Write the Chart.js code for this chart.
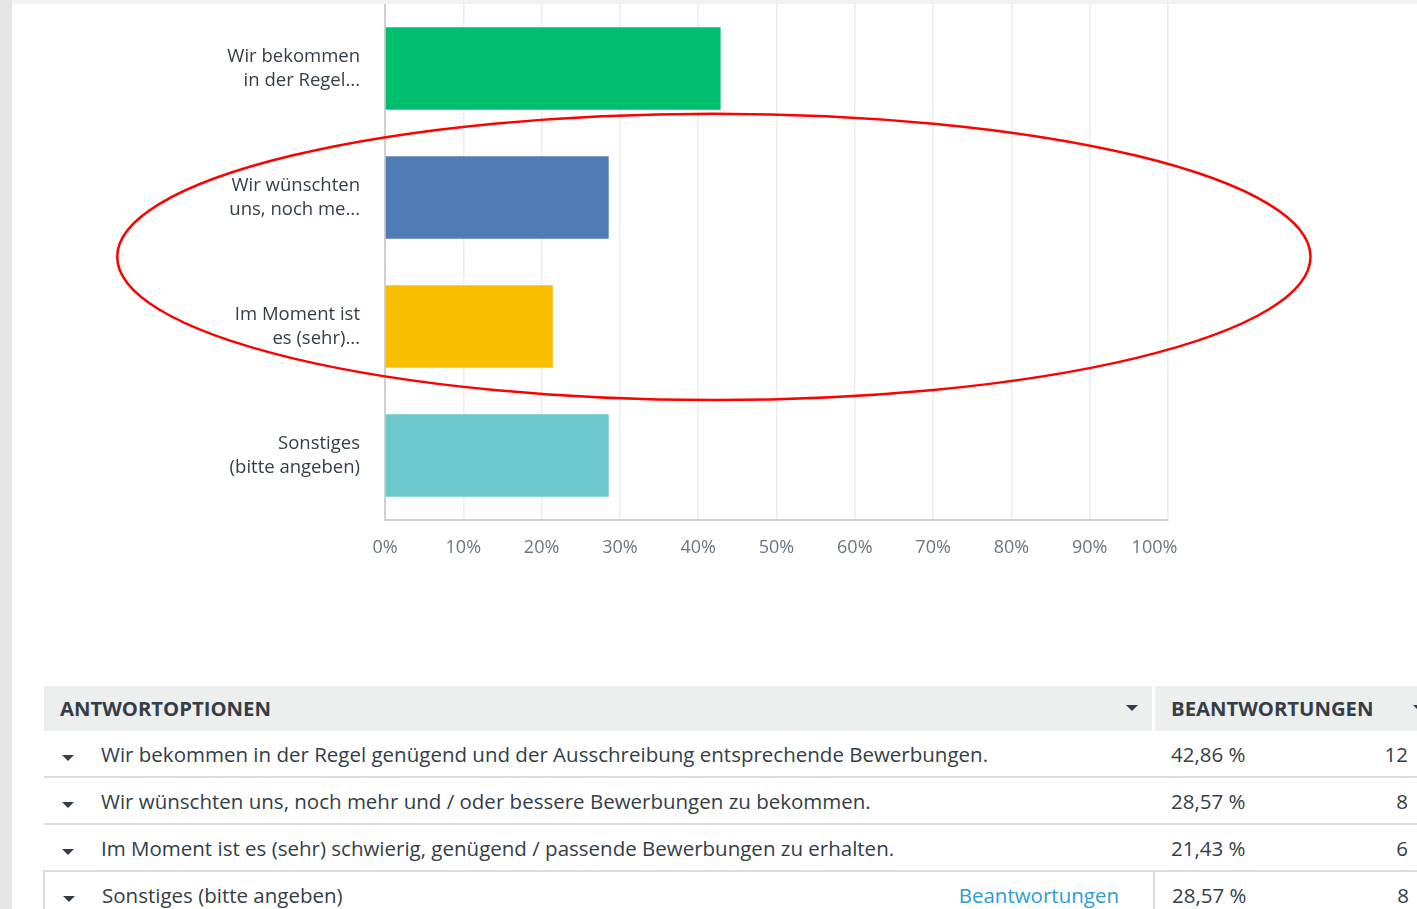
<!DOCTYPE html>
<html>
<head>
<meta charset="utf-8">
<script src="https://cdn.jsdelivr.net/npm/chart.js@4/dist/chart.umd.min.js"></script>
<style>
  html, body { margin: 0; padding: 0; }
  body { width: 1417px; height: 909px; background: #f2f2f2; position: relative; overflow: hidden;
         font-family: "Open Sans", sans-serif; color: #333e48; }
  #strip { position: absolute; left: 0; top: 0; width: 12px; height: 909px; background: #e6e6e6; }
  #panel { position: absolute; left: 12px; top: 4px; width: 1405px; height: 905px; background: #fff; }
  #chartBox { position: absolute; left: 12px; top: 4px; width: 1405px; height: 600px; }
  #tbl { position: absolute; left: 44px; top: 686px; width: 1373px; font-size: 20.5px; }
  .hdr { position: absolute; top: 0; height: 45px; background: #edeeee; font-weight: 700; line-height: 45px; font-size: 20.3px; }
  .tri { position: absolute; width: 0; height: 0; border-left: 6px solid transparent;
         border-right: 6px solid transparent; border-top: 6px solid #333e48; }
  .row { position: absolute; left: 0; width: 1373px; height: 45px; border-bottom: 2px solid #dcdcdc; line-height: 47px; }
  .cell { position: absolute; top: 0; white-space: nowrap; }
</style>
</head>
<body>
<div id="strip"></div>
<div id="panel"></div>
<div id="chartBox"><canvas id="myChart"></canvas></div>
<div id="tbl"></div>
<script>
// data
var shortLabels = [
    ["Wir bekommen", "in der Regel..."],
    ["Wir wünschten", "uns, noch me..."],
    ["Im Moment ist", "es (sehr)..."],
    ["Sonstiges", "(bitte angeben)"]
];
var fullLabels = [
    "Wir bekommen in der Regel genügend und der Ausschreibung entsprechende Bewerbungen.",
    "Wir wünschten uns, noch mehr und / oder bessere Bewerbungen zu bekommen.",
    "Im Moment ist es (sehr) schwierig, genügend / passende Bewerbungen zu erhalten.",
    "Sonstiges (bitte angeben)"
];
var percentValues = [42.86, 28.57, 21.43, 28.57];
var answerCounts = [12, 8, 6, 8];
var barColors = ["#00bf6f", "#507cb6", "#f9be00", "#6bc8cd"];
var xTicks = [0, 10, 20, 30, 40, 50, 60, 70, 80, 90, 100];

// red ellipse drawn on top, placed with the scales
var ellipsePlugin = {
    id: "ellipse",
    afterDraw: function (chart) {
        var x = chart.scales.x, y = chart.scales.y;
        var ctx = chart.ctx;
        var cx = x.getPixelForValue(42);
        var rx = x.getPixelForValue(118.2) - cx;
        var cy = y.getPixelForValue(1.46);
        var ry = cy - y.getPixelForValue(0.35);
        ctx.save();
        ctx.strokeStyle = "#ff0000";
        ctx.lineWidth = 2.5;
        ctx.beginPath();
        ctx.ellipse(cx, cy, rx, Math.abs(ry), 0, 0, Math.PI * 2);
        ctx.stroke();
        ctx.restore();
    }
};

new Chart("myChart", {
    type: "bar",
    data: {
        labels: shortLabels,
        datasets: [{
            data: percentValues,
            backgroundColor: barColors,
            barPercentage: 0.64,
            categoryPercentage: 1
        }]
    },
    options: {
        indexAxis: "y",
        responsive: true,
        maintainAspectRatio: false,
        animation: false,
        layout: { padding: { top: 0, right: 249, left: 0, bottom: 0 } },
        plugins: { legend: { display: false }, tooltip: { enabled: false } },
        scales: {
            x: {
                min: 0,
                max: 100,
                afterBuildTicks: function (s) { s.ticks = xTicks.map(function (v) { return { value: v }; }); },
                afterFit: function (s) { s.height = 84; s.paddingLeft = 0; s.paddingRight = 0; },
                ticks: {
                    padding: 17,
                    minRotation: 0,
                    maxRotation: 0,
                    autoSkip: false,
                    color: "#6b7680",
                    font: { family: "Open Sans", size: 18 },
                    // last label sits a bit left of its gridline in the original
                    callback: function (v) { return v === 100 ? v + "%\u2003\u2002" : v + "%"; }
                },
                grid: { color: "#ececec", lineWidth: 1.5, drawTicks: false },
                border: { color: "#d0d0d0", width: 2 }
            },
            y: {
                afterFit: function (s) { s.width = 373; s.paddingTop = 0; s.paddingBottom = 0; },
                ticks: {
                    padding: 25,
                    color: "#333e48",
                    font: { family: "Open Sans", size: 18.5, lineHeight: 1.3 }
                },
                grid: { display: false, drawTicks: false },
                border: { color: "#d0d0d0", width: 2 }
            }
        }
    },
    plugins: [ellipsePlugin]
});

// table under the chart
function fmtPct(v) { return v.toFixed(2).replace(".", ",") + " %"; }
var tbl = document.getElementById("tbl");
var html = "";
html += '<div class="hdr" style="left:0;width:1108px;"><span style="position:absolute;left:16px;">ANTWORTOPTIONEN</span>' +
        '<div class="tri" style="left:1082px;top:19px;"></div></div>';
html += '<div class="hdr" style="left:1111px;width:262px;"><span style="position:absolute;left:16px;">BEANTWORTUNGEN</span>' +
        '<div class="tri" style="left:258px;top:19px;"></div></div>';
for (var i = 0; i < fullLabels.length; i++) {
    var rowTop = 45 + i * 47;
    var last = i === fullLabels.length - 1;
    var extra = last ? "border-top:2px solid #dcdcdc;top:" + (rowTop - 2) + "px;left:-1px;border-left:2px solid #dcdcdc;" : "top:" + rowTop + "px;";
    html += '<div class="row" style="' + extra + '">';
    html += '<div class="tri" style="left:18px;top:24px;"></div>';
    html += '<div class="cell" style="left:57px;">' + fullLabels[i] + '</div>';
    if (last) {
        html += '<div class="cell" style="right:299px;color:#2a9ed4;">Beantwortungen</div>';
        html += '<div style="position:absolute;left:1108px;top:0;width:2px;height:47px;background:#dcdcdc;"></div>';
    }
    html += '<div class="cell" style="left:1127px;">' + fmtPct(percentValues[i]) + '</div>';
    html += '<div class="cell" style="right:9px;">' + answerCounts[i] + '</div>';
    html += '</div>';
}
tbl.innerHTML = html;
</script>
</body>
</html>
